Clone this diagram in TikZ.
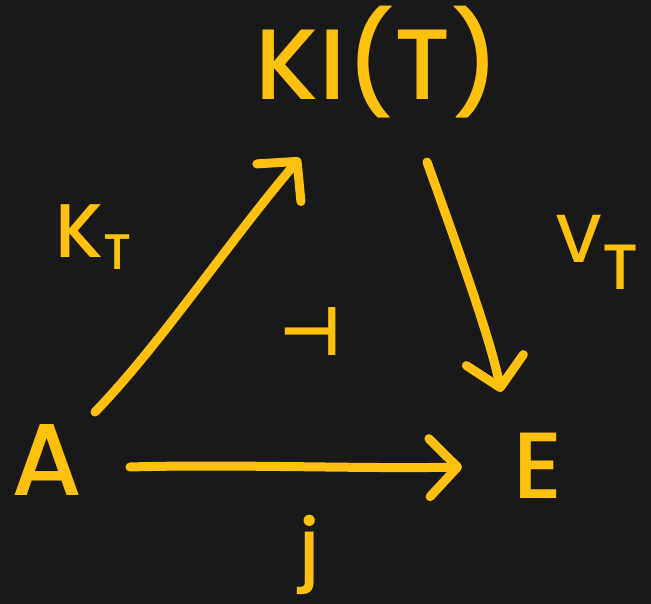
\documentclass[tikz,border=0pt]{standalone}
\usepackage{fontspec}
\setmainfont{Poppins Medium}
\newfontfamily\symfont{DejaVu Sans}
\usetikzlibrary{arrows.meta,calc}
\definecolor{ink}{HTML}{FFC10E}
\definecolor{bgc}{HTML}{191919}
\tikzset{
  lbl/.style={text=ink, inner sep=0pt, outer sep=0pt},
  arr/.style={draw=ink, line width=9pt, line cap=round,
    -{Straight Barb[length=28pt,width=58pt,line cap=round,round]}}
}
\newcommand{\fs}[1]{\fontsize{#1}{#1}\selectfont}
\begin{document}
\begin{tikzpicture}[x=1pt,y=-1pt]
\fill[bgc] (0,0) rectangle (651,604);
\useasboundingbox (0,0) rectangle (651,604);
\node[lbl, anchor=base] (KIT) at (378,100) {\fs{100}KI(T)};
\node[lbl, anchor=base] (A) at (47,495) {\fs{102}A};
\node[lbl, anchor=base] (E) at (538,498) {\fs{94}E};
\node[lbl, anchor=base west] (KT) at (55,258) {\fs{76}K\raisebox{-12pt}{\fs{50}T}};
\node[lbl, anchor=base west] (VT) at (555,263) {\fs{68}V\raisebox{-27pt}{\fs{64}T}};
\node[lbl] (adj) at (311,332) {\symfont\bfseries\fs{68}⊣};
\node[lbl] (j) at (310,555) {\fs{77}j};
\draw[arr] ([shift={(48,-83)}]A.base) .. controls +(65,-67) and +(-70,82) .. ([shift={(-78,58)}]KIT.base);
\draw[arr] ([shift={(49,62)}]KIT.base) .. controls +(28,78) and +(-10,-52) .. ([shift={(-37,-106)}]E.base);
\draw[arr] ([shift={(83,-28)}]A.base) .. controls +(100,-3) and +(-100,2) .. ([shift={(-76,-31)}]E.base);
\end{tikzpicture}
\end{document}
